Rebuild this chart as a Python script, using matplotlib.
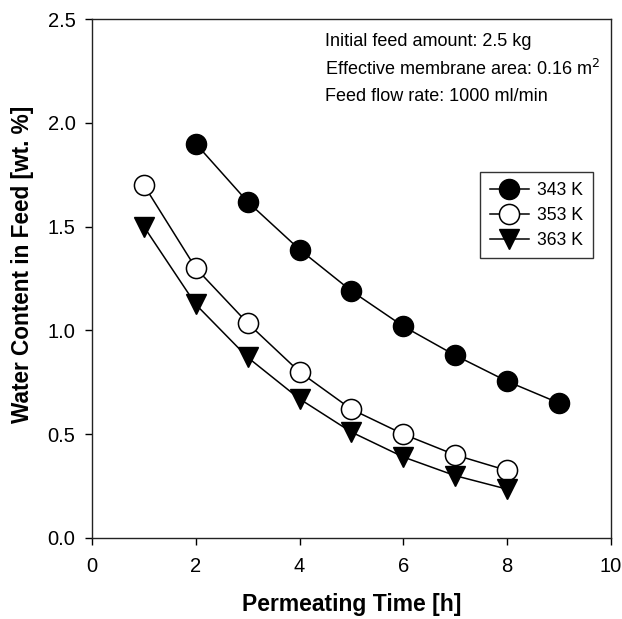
import matplotlib
matplotlib.use('Agg')
import matplotlib.pyplot as plt
import numpy as np

plt.rcParams['font.family'] = ['Liberation Sans', 'DejaVu Sans']

# permeating time [h]
t_343 = [2, 3, 4, 5, 6, 7, 8, 9]
t_353 = [1, 2, 3, 4, 5, 6, 7, 8]
t_363 = [1, 2, 3, 4, 5, 6, 7, 8]

# water content in feed [wt. %]
w_343 = [1.90, 1.62, 1.39, 1.19, 1.02, 0.88, 0.755, 0.65]
w_353 = [1.70, 1.30, 1.035, 0.80, 0.62, 0.50, 0.40, 0.325]
w_363 = [1.50, 1.125, 0.87, 0.67, 0.51, 0.39, 0.30, 0.235]

labels = ['343 K', '353 K', '363 K']
notes = ['Initial feed amount: 2.5 kg',
         'Effective membrane area: 0.16 m$^2$',
         'Feed flow rate: 1000 ml/min']

fig = plt.figure(figsize=(6.22, 6.19), dpi=100)
ax = fig.add_axes([0.148, 0.131, 0.834, 0.838])

ax.plot(t_343, w_343, 'o-', color='black', mfc='black', mec='black',
        ms=14.5, lw=1.1, label=labels[0])
ax.plot(t_353, w_353, 'o-', color='black', mfc='white', mec='black',
        ms=14.5, mew=1.1, lw=1.1, label=labels[1])
ax.plot(t_363, w_363, 'v-', color='black', mfc='black', mec='black',
        ms=14.5, lw=1.1, label=labels[2])

ax.set_xlim(0, 10)
ax.set_ylim(0, 2.5)
ax.set_xticks([0, 2, 4, 6, 8, 10])
ax.set_yticks([0.0, 0.5, 1.0, 1.5, 2.0, 2.5])
ax.set_yticklabels(['0.0', '0.5', '1.0', '1.5', '2.0', '2.5'])
ax.tick_params(direction='out', length=5, width=1, labelsize=14.5)
ax.tick_params(axis='x', pad=9)
ax.tick_params(axis='y', pad=7)
for s in ax.spines.values():
    s.set_linewidth(1)
    s.set_color('#222222')

ax.set_xlabel('Permeating Time [h]', fontsize=16.5, fontweight='bold')
ax.xaxis.set_label_coords(0.5, -0.106)
ax.set_ylabel('Water Content in Feed [wt. %]', fontsize=16.3, fontweight='bold')
ax.yaxis.set_label_coords(-0.112, 0.527)

for i, n in enumerate(notes):
    ax.text(0.449, 0.957 - i * 0.053, n, transform=ax.transAxes,
            fontsize=13, va='center', ha='left')

leg = ax.legend(loc='upper right', bbox_to_anchor=(0.966, 0.705),
                frameon=True, fancybox=False, edgecolor='black',
                fontsize=12.7, markerscale=1.0, handlelength=2.2,
                handletextpad=0.5, labelspacing=0.45, borderpad=0.55,
                borderaxespad=0)
leg.get_frame().set_linewidth(1)

fig.savefig('out.png', dpi=100)
